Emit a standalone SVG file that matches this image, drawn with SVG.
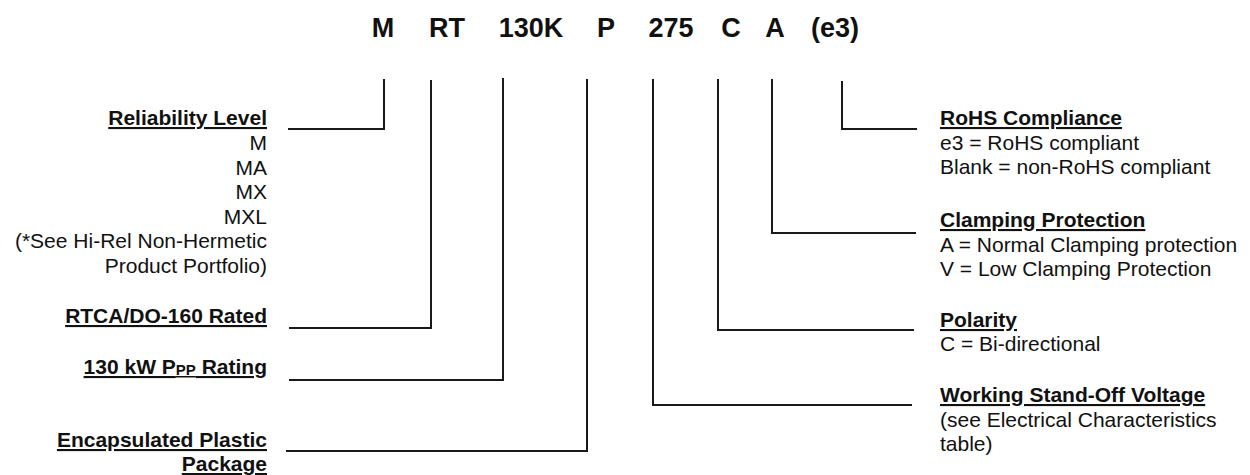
<svg xmlns="http://www.w3.org/2000/svg" width="1250" height="475" viewBox="0 0 1250 475">
<style>
text{font-family:"Liberation Sans",Arial,sans-serif;fill:#111;font-size:21px}
.code{font-weight:bold;font-size:27px;text-anchor:middle}
.h{font-weight:bold;text-decoration:underline}
.l{text-anchor:end}
.c{fill:none;stroke:#1a1a1a;stroke-width:2;stroke-linecap:square}
</style>
<rect width="1250" height="475" fill="#fff"/>
<g id="code">
<text class="code" x="383" y="37">M</text>
<text class="code" x="447" y="37">RT</text>
<text class="code" x="531" y="37">130K</text>
<text class="code" x="606" y="37">P</text>
<text class="code" x="671" y="37">275</text>
<text class="code" x="731" y="37">C</text>
<text class="code" x="775" y="37">A</text>
<text class="code" x="835" y="37">(e3)</text>
</g>
<g id="connectors">
<path class="c" d="M384,80 V129 H289"/>
<path class="c" d="M431,81 V328 H290"/>
<path class="c" d="M503,79 V380 H290"/>
<path class="c" d="M587,80 V451 H287"/>
<path class="c" d="M653,80 V405 H911"/>
<path class="c" d="M718,80 V330 H913"/>
<path class="c" d="M772,80 V233 H915"/>
<path class="c" d="M842,82 V129 H916"/>
</g>
<g id="reliability">
<text class="h l" x="267" y="125">Reliability Level</text>
<text class="l" x="267" y="150">M</text>
<text class="l" x="267" y="174.5">MA</text>
<text class="l" x="267" y="199">MX</text>
<text class="l" x="267" y="223.5">MXL</text>
<text class="l" x="267" y="248">(*See Hi-Rel Non-Hermetic</text>
<text class="l" x="267" y="272.5">Product Portfolio)</text>
</g>
<g id="rtca">
<text class="h l" x="267" y="323">RTCA/DO-160 Rated</text>
</g>
<g id="rating">
<text class="h l" x="267" y="374">130 kW P<tspan font-size="15" dy="1">PP</tspan><tspan dy="-1"> Rating</tspan></text>
</g>
<g id="package">
<text class="h l" x="267" y="447">Encapsulated Plastic</text>
<text class="h l" x="267" y="471">Package</text>
</g>
<g id="rohs">
<text class="h" x="940" y="125">RoHS Compliance</text>
<text x="940" y="149.5">e3 = RoHS compliant</text>
<text x="940" y="174">Blank = non-RoHS compliant</text>
</g>
<g id="clamping">
<text class="h" x="940" y="227">Clamping Protection</text>
<text x="940" y="251.5">A = Normal Clamping protection</text>
<text x="940" y="276">V = Low Clamping Protection</text>
</g>
<g id="polarity">
<text class="h" x="940" y="327">Polarity</text>
<text x="940" y="351">C = Bi-directional</text>
</g>
<g id="voltage">
<text class="h" x="940" y="402">Working Stand-Off Voltage</text>
<text x="940" y="426.5">(see Electrical Characteristics</text>
<text x="940" y="451">table)</text>
</g>
</svg>
